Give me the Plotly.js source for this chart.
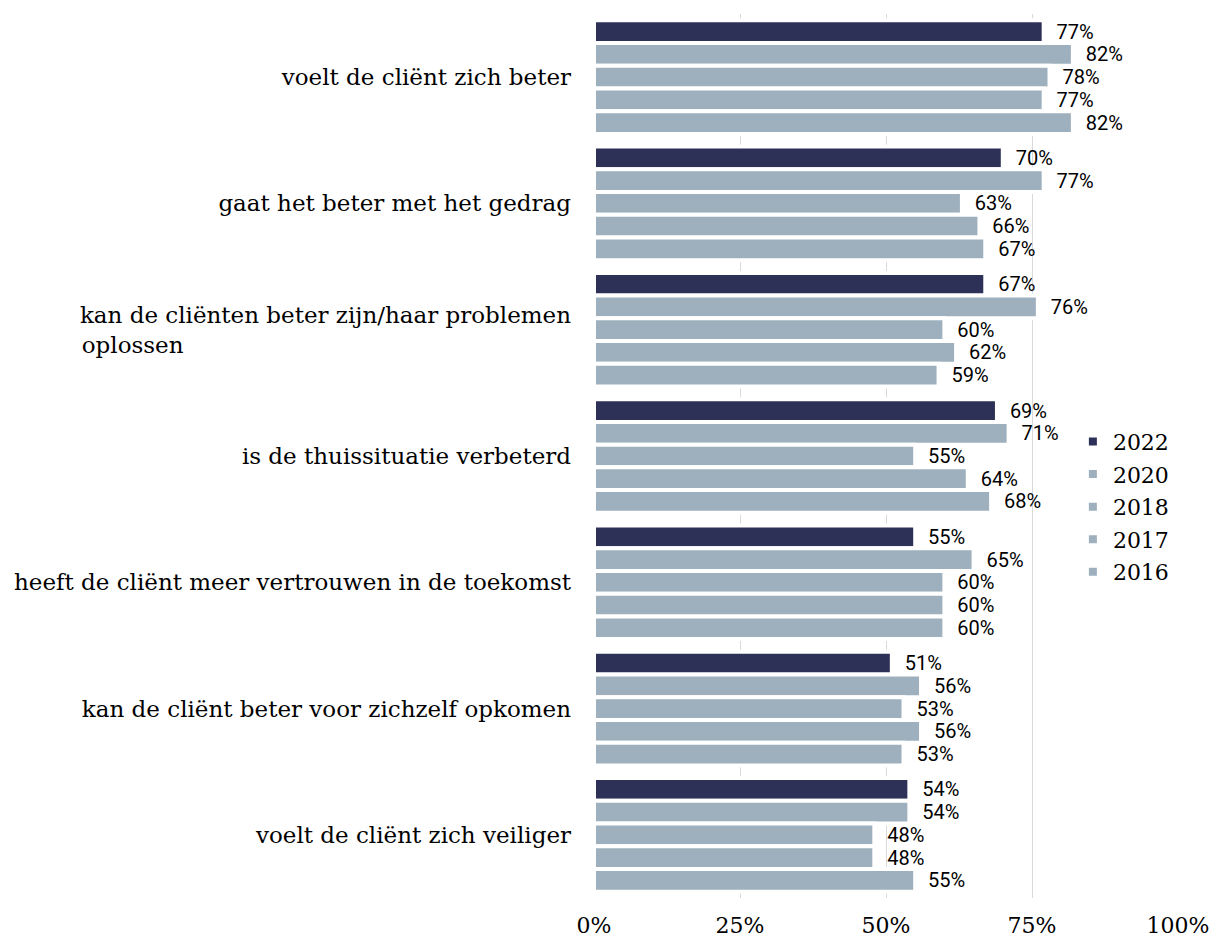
<!DOCTYPE html>
<html>
<head>
<meta charset="utf-8">
<script src="https://cdn.plot.ly/plotly-3.0.1.min.js"></script>
<style>html,body{margin:0;padding:0;background:#fff;}#chart{width:1213px;height:940px;}</style>
</head>
<body>
<div id="chart"></div>
<script>
const categories = [
  "voelt de cliënt zich beter",
  "gaat het beter met het gedrag",
  "kan de cliënten beter zijn/haar problemen oplossen",
  "is de thuissituatie verbeterd",
  "heeft de cliënt meer vertrouwen in de toekomst",
  "kan de cliënt beter voor zichzelf opkomen",
  "voelt de cliënt zich veiliger"
];
const years = ["2022", "2020", "2018", "2017", "2016"];
const v2022 = [77, 70, 67, 69, 55, 51, 54];
const v2020 = [82, 77, 76, 71, 65, 56, 54];
const v2018 = [78, 63, 60, 55, 60, 53, 48];
const v2017 = [77, 66, 62, 64, 60, 56, 48];
const v2016 = [82, 67, 59, 68, 60, 53, 55];
const seriesValues = [v2022, v2020, v2018, v2017, v2016];
const seriesColors = ["#2E3157", "#9EB0BE", "#9EB0BE", "#9EB0BE", "#9EB0BE"];
const xTickVals = [0, 25, 50, 75, 100];

const SERIF = "DejaVu Serif";
const SANS = "Roboto";
const catFontSize = 23;

// build tick labels; wrap the long one and left-align its lines by padding
const ctx = document.createElement("canvas").getContext("2d");
ctx.font = catFontSize + "px '" + SERIF + "'";
function w(s) { return ctx.measureText(s).width; }
const nbspW = w("\u00a0");
const tickText = categories.map(c => {
  if (c === "kan de cliënten beter zijn/haar problemen oplossen") {
    const l1 = "kan de cliënten beter zijn/haar problemen";
    const l2 = "oplossen";
    const n = Math.max(0, Math.round((w(l1) - w(l2)) / nbspW));
    return l1 + "<br>" + l2 + "\u00a0".repeat(n);
  }
  return c;
});

const traces = years.map((yr, i) => ({
  type: "bar",
  orientation: "h",
  name: yr,
  legendgroup: yr,
  y: categories,
  x: seriesValues[i],
  marker: { color: seriesColors[i], line: { color: "#ffffff", width: 4 } },
  text: seriesValues[i].map(v => v + "%"),
  texttemplate: "\u00a0\u00a0%{text}",
  textposition: "outside",
  constraintext: "none",
  cliponaxis: false,
  textfont: { family: SANS, size: 20, color: "#000000" },
  hoverinfo: "skip"
}));

const layout = {
  width: 1213,
  height: 940,
  margin: { l: 594, r: 35, t: 14, b: 42 },
  paper_bgcolor: "#ffffff",
  plot_bgcolor: "#ffffff",
  barmode: "group",
  bargap: 0.1,
  bargroupgap: 0,
  showlegend: true,
  legend: {
    x: 0.82, y: 0.54, xanchor: "left", yanchor: "top",
    traceorder: "grouped",
    tracegroupgap: 1,
    font: { family: SERIF, size: 22, color: "#000000" },
    bgcolor: "rgba(0,0,0,0)"
  },
  xaxis: {
    range: [0, 100],
    tickvals: xTickVals,
    ticktext: xTickVals.map(v => v + "%"),
    showgrid: true,
    gridcolor: "#d9d9d9",
    gridwidth: 1,
    zeroline: false,
    showline: false,
    ticks: "",
    ticklabelstandoff: 12,
    tickfont: { family: SERIF, size: 22, color: "#000000" },
    fixedrange: true
  },
  yaxis: {
    type: "category",
    autorange: "reversed",
    tickvals: categories,
    ticktext: tickText,
    showgrid: false,
    zeroline: false,
    showline: false,
    ticks: "",
    ticklabelstandoff: 22,
    tickfont: { family: SERIF, size: catFontSize, color: "#000000" },
    fixedrange: true
  }
};

Plotly.newPlot("chart", traces, layout, { displayModeBar: false, staticPlot: true });
</script>
</body>
</html>
